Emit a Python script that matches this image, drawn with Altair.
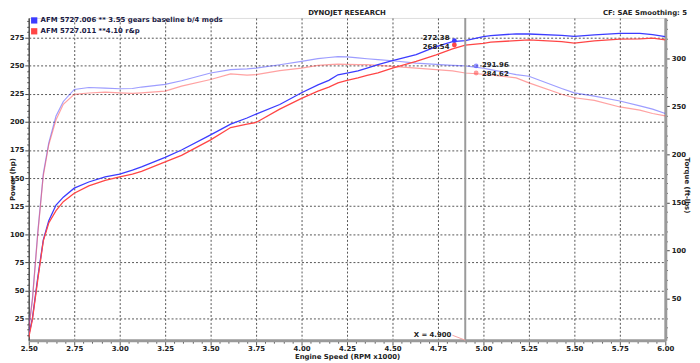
import altair as alt
import pandas as pd

RUNS = ["AFM 5727.006 ** 3.55 gears baseline b/4 mods", "AFM 5727.011 **4.10 r&p"]
COLORS = ["#3c3cff", "#ff4646"]

RPM = [2.50, 2.52, 2.55, 2.58, 2.61, 2.65, 2.69, 2.75, 2.83, 2.92, 3.00, 3.07, 3.12,
       3.25, 3.34, 3.50, 3.61, 3.70, 3.75, 3.88, 4.00, 4.09, 4.15, 4.20, 4.25, 4.31,
       4.36, 4.42, 4.50, 4.63, 4.74, 4.83, 4.90, 5.00, 5.04, 5.18, 5.25, 5.43, 5.50,
       5.61, 5.75, 5.86, 5.93, 6.00]

HP_006 = [10, 25, 62, 95, 112, 126, 133, 141, 146.5, 151, 153.5, 157, 160,
          168.5, 175, 188.5, 198, 203.5, 207, 215.5, 226, 233, 237, 242, 243.5, 245.5,
          248, 251, 254.5, 260, 267, 271.5, 272.4, 275.9, 276.8, 278.5, 278.3, 277, 276.2,
          277.5, 278.8, 278.8, 277.7, 275.9]
HP_011 = [8, 24, 60, 94, 110, 121, 129, 136.5, 143, 148, 151, 153.5, 156,
          164.4, 170.2, 184, 195, 198, 199.5, 211.4, 221, 227.5, 231, 234.8, 237, 239.2,
          241.5, 243.6, 248, 253.9, 259.8, 265, 268.5, 270, 271, 272.4, 273.1, 271.6, 270.1,
          272.2, 273.7, 274, 274.6, 273.1]
TQ_006 = [20, 50, 120, 180, 212, 240, 255, 267.5, 269.5, 268.8, 268.2, 268.5, 270,
          272.7, 276.5, 284.6, 288.1, 288.8, 289.7, 293.2, 296.6, 299.5, 300.7, 301.7, 301.3, 300.3,
          299.4, 298.5, 297.3, 294.9, 293.5, 292.6, 292, 289.5, 288.1, 282.9, 281.2, 268.5, 264,
          260.6, 255.5, 250.4, 247, 242.5]
TQ_011 = [18, 48, 118, 178, 210, 236, 252, 262.4, 263.8, 264.8, 264, 263.5, 264,
          265.8, 271, 277.8, 283.6, 282.3, 282.9, 287, 289.7, 292.5, 293.2, 293.8, 293.5, 293.3,
          293.2, 292.5, 291.5, 289.7, 288.1, 286.8, 284.6, 283.3, 282.5, 279.5, 274.3, 262.5, 258.9,
          256.2, 249.3, 246, 242.5, 240.1]

CURSOR_RPM = 4.9
CURSOR_LABEL = "X = 4.900"
MARK_HP = [272.38, 268.54]
MARK_TQ = [291.96, 284.62]

TITLE = "DYNOJET RESEARCH"
INFO = "CF: SAE  Smoothing: 5"
X_TITLE = "Engine Speed (RPM x1000)"
HP_TITLE = "Power (hp)"
TQ_TITLE = "Torque (ft-lbs)"

X_DOMAIN = [2.5, 6.0]
HP_DOMAIN = [5.6, 292.6]
TQ_DOMAIN = [6.9, 341.8]

X_TICKS = [round(2.5 + 0.05 * i, 2) for i in range(71)]
HP_TICKS = list(range(10, 291, 5))
TQ_TICKS = list(range(10, 341, 10))

W, H = 644, 326
FONT = "DejaVu Sans"
FS = 7
TXT = "#222222"

rows = []
for run, hps, tqs in zip(RUNS, [HP_006, HP_011], [TQ_006, TQ_011]):
    for r, h, t in zip(RPM, hps, tqs):
        rows.append({"run": run, "rpm": r, "hp": h, "tq": t})
df = pd.DataFrame(rows)

marks = pd.DataFrame({
    "run": RUNS,
    "rpm": [CURSOR_RPM] * 2,
    "hp": MARK_HP,
    "tq": MARK_TQ,
    "hp_lab": [f"{v:.2f}" for v in MARK_HP],
    "tq_lab": [f"{v:.2f}" for v in MARK_TQ],
})
cursor = pd.DataFrame({"rpm": [CURSOR_RPM], "lab": [CURSOR_LABEL]})


def is_major(step):
    return f"abs(datum.value/{step} - round(datum.value/{step})) < 0.001"


color_scale = alt.Scale(domain=RUNS, range=COLORS)

tx = is_major(0.25)
x_axis = alt.Axis(
    values=X_TICKS,
    labelExpr=f"{tx} ? format(datum.value, '.2f') : ''",
    tickSize={"condition": {"test": tx, "value": 5}, "value": 3},
    grid=True,
    gridOpacity={"condition": {"test": tx, "value": 1}, "value": 0},
    gridDash=[2, 2], gridColor="#555", gridWidth=1,
    domainColor="#9a9a9a", domainWidth=3, tickColor="#555",
    labelFont=FONT, labelFontSize=FS, labelFontWeight="bold", labelColor=TXT,
    labelPadding=-1, labelFlush=False, labelOverlap=False,
    title=X_TITLE, titleFont=FONT, titleFontSize=FS, titleFontWeight="bold",
    titleColor=TXT, titleX=W / 2, titleY=16.5, titleBaseline="middle",
)
X = alt.X("rpm:Q", scale=alt.Scale(domain=X_DOMAIN, nice=False, zero=False), axis=x_axis)

th = is_major(25)
hp_axis = alt.Axis(
    values=HP_TICKS,
    labelExpr=f"{th} ? format(datum.value, 'd') : ''",
    tickSize={"condition": {"test": th, "value": 4}, "value": 2},
    grid=True,
    gridOpacity={"condition": {"test": th, "value": 1}, "value": 0},
    gridDash=[2, 2], gridColor="#555", gridWidth=1,
    domainColor="#555", domainWidth=1.5, tickColor="#444",
    labelFont=FONT, labelFontSize=FS, labelFontWeight="bold", labelColor=TXT,
    labelPadding=1, labelOverlap=False,
    title=HP_TITLE, titleFont=FONT, titleFontSize=FS, titleFontWeight="bold",
    titleColor=TXT, titleX=-16, titleY=H / 2, titleAngle=-90, titleBaseline="middle",
)
HPY = alt.Y("hp:Q", scale=alt.Scale(domain=HP_DOMAIN, nice=False, zero=False), axis=hp_axis)

tt = is_major(50)
tq_axis = alt.Axis(
    orient="right",
    values=TQ_TICKS,
    labelExpr=f"{tt} ? format(datum.value, 'd') : ''",
    tickSize={"condition": {"test": tt, "value": 4}, "value": 2},
    grid=False,
    domainColor="#9a9a9a", domainWidth=3, tickColor="#444",
    labelFont=FONT, labelFontSize=FS, labelFontWeight="bold", labelColor=TXT,
    labelPadding=2, labelOverlap=False,
    title=TQ_TITLE, titleFont=FONT, titleFontSize=FS, titleFontWeight="bold",
    titleColor=TXT, titleX=21, titleY=H / 2 + 6, titleAngle=90, titleBaseline="middle",
)
TQY = alt.Y("tq:Q", scale=alt.Scale(domain=TQ_DOMAIN, nice=False, zero=False), axis=tq_axis)

legend = alt.Legend(
    title=None, orient="none", legendX=2, legendY=-1, padding=0, rowPadding=3,
    symbolType="square", symbolSize=40, symbolStrokeWidth=0,
    labelFont=FONT, labelFontSize=FS, labelFontWeight="bold", labelColor="#1a1a44",
    labelLimit=500, labelOffset=3,
)

hp_parts = []
tq_parts = []
for i, (run, col) in enumerate(zip(RUNS, COLORS)):
    d = df[df["run"] == run]
    m = marks[marks["run"] == run]
    hp_parts.append(alt.Chart(d).mark_line(strokeWidth=1.3, clip=True, color=col).encode(x=X, y=HPY))
    tq_parts.append(alt.Chart(d).mark_line(strokeWidth=1.2, opacity=0.5, clip=True, color=col).encode(x=X, y=TQY))
    tq_parts.append(alt.Chart(m).mark_circle(size=24, opacity=0.55, xOffset=11, color=col).encode(x=X, y=TQY))
    hp_parts.append(alt.Chart(m).mark_text(
        align="right", baseline="middle", dx=-16, dy=(-2.5 if i == 0 else 2.5), font=FONT, fontSize=FS,
        fontWeight="bold", color=TXT).encode(x=X, y=HPY, text="hp_lab:N"))
    tq_parts.append(alt.Chart(m).mark_text(
        align="left", baseline="middle", dx=17, dy=(-1 if i == 0 else 1), font=FONT, fontSize=FS,
        fontWeight="bold", color=TXT).encode(x=X, y=TQY, text="tq_lab:N"))

rule = alt.Chart(cursor).mark_rule(color="#9a9a9a", strokeWidth=2).encode(x=X)
leader = alt.Chart(cursor).mark_rule(color="#f4a0a0", strokeWidth=1, xOffset=-13).encode(
    x=X, x2="rpm:Q", y=alt.value(H - 5), y2=alt.value(H))
hp_pts = alt.Chart(marks).mark_circle(size=24, opacity=1, xOffset=-11).encode(
    x=X, y=HPY, color=alt.Color("run:N", scale=color_scale, legend=legend))
cur_txt = alt.Chart(cursor).mark_text(
    align="right", baseline="middle", dx=-14, font=FONT, fontSize=FS,
    fontWeight="bold", color=TXT).encode(x=X, y=alt.value(H - 5), text="lab:N")
info = alt.Chart(cursor).mark_text(
    align="right", baseline="middle", font=FONT, fontSize=FS,
    fontWeight="bold", color=TXT).encode(
    x=alt.value(W + 22), y=alt.value(-4.5), text=alt.value(INFO))
title = alt.Chart(cursor).mark_text(
    align="center", baseline="middle", font=FONT, fontSize=FS,
    fontWeight="bold", color=TXT).encode(
    x=alt.value(W / 2), y=alt.value(-4.5), text=alt.value(TITLE))

hp_layer = alt.layer(*hp_parts, rule, leader, hp_pts, cur_txt, info, title)
tq_layer = alt.layer(*tq_parts)

chart = alt.layer(tq_layer, hp_layer).resolve_scale(y="independent").properties(
    width=W, height=H,
    padding={"left": 21, "top": 8, "right": 27, "bottom": 20},
    autosize=alt.AutoSizeParams(type="none"),
).configure_view(stroke=None).configure(background="white")

chart.save("out.html", embed_options={"renderer": "svg", "actions": False})
